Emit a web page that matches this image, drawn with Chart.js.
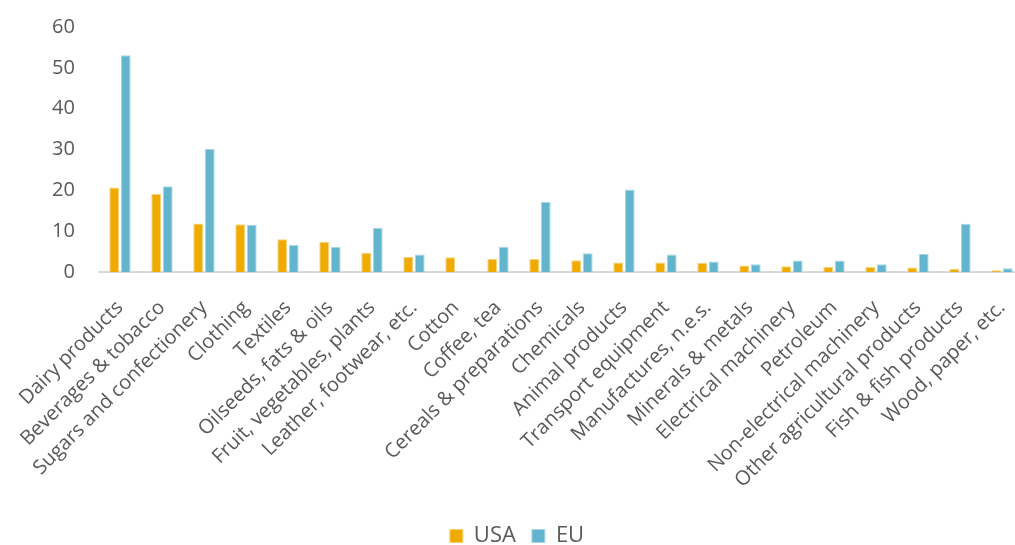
<!DOCTYPE html>
<html>
<head>
<meta charset="utf-8">
<script src="https://cdn.jsdelivr.net/npm/chart.js@4/dist/chart.umd.min.js"></script>
<style>
  html, body { margin: 0; padding: 0; background: #fff; overflow: hidden; height: 545px; }
  #wrap { width: 1046px; height: 566px; margin-top: -9px; margin-left: -3px; }
</style>
</head>
<body>
<div id="wrap"><canvas id="tradeChart"></canvas></div>
<script>
const categories = [
  'Dairy products', 'Beverages & tobacco', 'Sugars and confectionery', 'Clothing',
  'Textiles', 'Oilseeds, fats & oils', 'Fruit, vegetables, plants', 'Leather, footwear, etc.',
  'Cotton', 'Coffee, tea', 'Cereals & preparations', 'Chemicals', 'Animal products',
  'Transport equipment', 'Manufactures, n.e.s.', 'Minerals & metals', 'Electrical machinery',
  'Petroleum', 'Non-electrical machinery', 'Other agricultural products', 'Fish & fish products',
  'Wood, paper, etc.'
];
const usaValues = [20.7, 19.1, 11.9, 11.7, 8.0, 7.4, 4.7, 3.7, 3.6, 3.2, 3.2, 2.9, 2.3,
  2.3, 2.2, 1.6, 1.4, 1.2, 1.2, 1.1, 0.8, 0.4];
const euValues = [53.1, 21.0, 30.1, 11.5, 6.6, 6.1, 10.8, 4.3, 0, 6.2, 17.2, 4.6, 20.2,
  4.3, 2.6, 1.9, 2.8, 2.8, 1.9, 4.4, 11.8, 0.9];
const yTicks = [0, 10, 20, 30, 40, 50, 60];

const textColor = '#595959';
const fontFamily = '"Open Sans", "Noto Sans", sans-serif';

const ctx = document.getElementById('tradeChart').getContext('2d');
new Chart(ctx, {
  type: 'bar',
  data: {
    labels: categories,
    datasets: [{
      label: 'USA',
      data: usaValues,
      backgroundColor: '#F0AB00',
      borderColor: '#F7D27A',
      borderWidth: 1,
      categoryPercentage: 0.55,
      barPercentage: 0.85
    }, {
      label: 'EU',
      data: euValues,
      backgroundColor: '#62B5CD',
      borderColor: '#A9D6E4',
      borderWidth: 1,
      categoryPercentage: 0.55,
      barPercentage: 0.85
    }]
  },
  options: {
    responsive: true,
    maintainAspectRatio: false,
    animation: false,
    layout: {
      padding: { left: 0, right: 6, top: 0, bottom: 0 }
    },
    plugins: {
      legend: {
        position: 'bottom',
        labels: {
          boxWidth: 13,
          boxHeight: 13,
          color: textColor,
          font: { family: fontFamily, size: 22 },
          padding: 16
        }
      },
      tooltip: { enabled: false }
    },
    scales: {
      x: {
        afterFit: axis => { axis.height = 237; },
        grid: { display: false, drawTicks: false },
        border: { color: '#D9D9D9', width: 2 },
        ticks: {
          color: textColor,
          font: { family: fontFamily, size: 20 },
          maxRotation: 45,
          minRotation: 45,
          autoSkip: false,
          padding: 24
        }
      },
      y: {
        min: 0,
        max: 60,
        afterBuildTicks: axis => { axis.ticks = yTicks.map(v => ({ value: v })); },
        afterFit: axis => { axis.width = 98; },
        grid: { display: false, drawTicks: false },
        border: { display: false },
        ticks: {
          color: textColor,
          font: { family: fontFamily, size: 20 },
          padding: 24
        }
      }
    }
  }
});
</script>
</body>
</html>
